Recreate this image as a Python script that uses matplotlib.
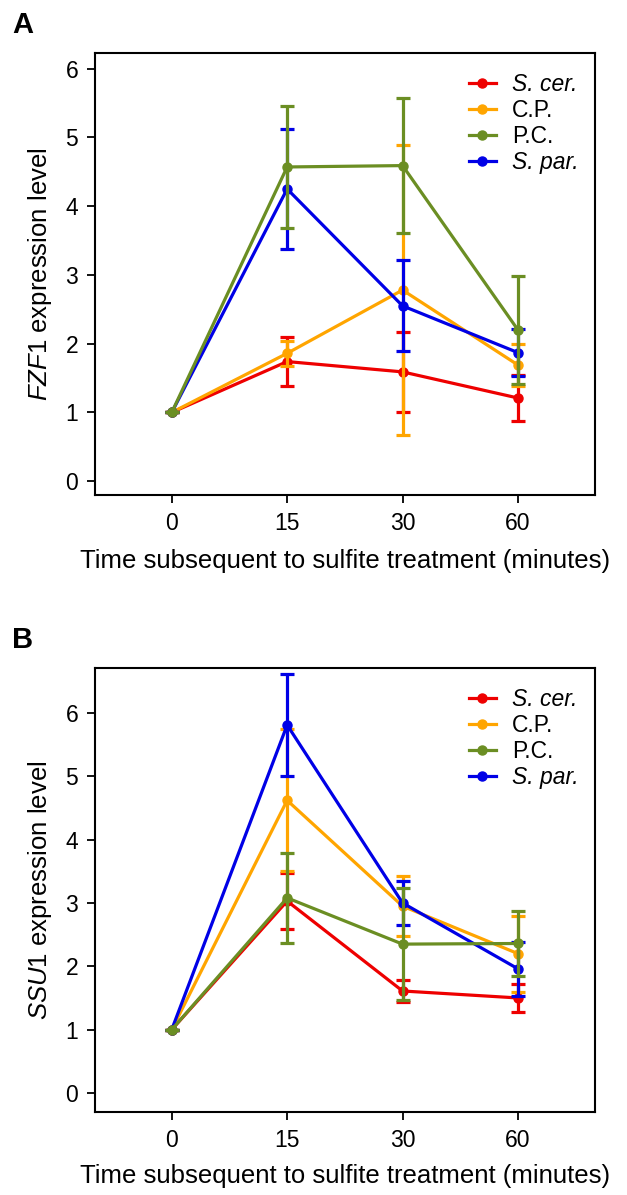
import matplotlib.pyplot as plt
import numpy as np
from matplotlib.lines import Line2D

plt.rcParams["font.family"] = ["Liberation Sans", "DejaVu Sans"]
plt.rcParams["mathtext.fontset"] = "custom"
plt.rcParams["mathtext.rm"] = "Liberation Sans"
plt.rcParams["mathtext.it"] = "Liberation Sans:italic"

# time points (categorical positions on the x axis)
times = ["0", "15", "30", "60"]
strains = ["S. cer.", "C.P.", "P.C.", "S. par."]
italic = [True, False, False, True]
colors = ["#ee0000", "#ffa500", "#6b8e23", "#0000e6"]

# Panel A: FZF1 expression
fzf1_mean = {
    "S.cer": [1.0, 1.74, 1.59, 1.21],
    "C.P.": [1.0, 1.86, 2.78, 1.69],
    "P.C.": [1.0, 4.57, 4.59, 2.20],
    "S.par": [1.0, 4.25, 2.55, 1.87],
}
fzf1_err = {
    "S.cer": [0.0, 0.36, 0.58, 0.34],
    "C.P.": [0.0, 0.18, 2.11, 0.31],
    "P.C.": [0.0, 0.89, 0.98, 0.79],
    "S.par": [0.0, 0.87, 0.66, 0.34],
}

# Panel B: SSU1 expression
ssu1_mean = {
    "S.cer": [1.0, 3.03, 1.61, 1.50],
    "C.P.": [1.0, 4.62, 2.95, 2.20],
    "P.C.": [1.0, 3.08, 2.35, 2.36],
    "S.par": [1.0, 5.81, 3.00, 1.96],
}
ssu1_err = {
    "S.cer": [0.0, 0.44, 0.17, 0.22],
    "C.P.": [0.0, 1.12, 0.47, 0.60],
    "P.C.": [0.0, 0.71, 0.89, 0.51],
    "S.par": [0.0, 0.81, 0.35, 0.43],
}

keys = ["S.cer", "C.P.", "P.C.", "S.par"]
zorders = [2, 3, 5, 4]


def draw_panel(ax, means, errs, gene, ylim, labelpad):
    x = np.arange(len(times))
    for key, color, z in zip(keys, colors, zorders):
        ax.errorbar(x, means[key], yerr=errs[key], color=color,
                    marker="o", markersize=6.5, linewidth=2.3, elinewidth=2.3,
                    capsize=5, capthick=2.3, zorder=z)
    ax.set_xlim(-0.665, 3.665)
    ax.set_ylim(*ylim)
    ax.set_xticks(x)
    ax.set_xticklabels(times)
    ax.set_yticks(range(0, 7))
    ax.tick_params(direction="out", length=6, width=1.3, labelsize=16.5, pad=6)
    for sp in ax.spines.values():
        sp.set_linewidth(1.5)
    ax.set_xlabel("Time subsequent to sulfite treatment (minutes)", fontsize=18.5, labelpad=labelpad)
    ax.set_ylabel(r"$\it{" + gene + r"}$ expression level", fontsize=18.5, labelpad=8)

    handles = [Line2D([], [], color=c, marker="o", markersize=6.5, linewidth=2.3) for c in colors]
    leg = ax.legend(handles, strains, loc="upper right", bbox_to_anchor=(1.0, 0.99), frameon=False,
                    fontsize=16.5, handlelength=1.2, handletextpad=0.7, labelspacing=0.12,
                    borderaxespad=0.3)
    for t, it in zip(leg.get_texts(), italic):
        if it:
            t.set_fontstyle("italic")


fig = plt.figure(figsize=(6.27, 11.95), dpi=100)
ax_a = fig.add_axes([0.1515, 0.5858, 0.797, 0.370])
ax_b = fig.add_axes([0.1515, 0.0695, 0.797, 0.3715])

draw_panel(ax_a, fzf1_mean, fzf1_err, "FZF1", (-0.2, 6.23), 10)
draw_panel(ax_b, ssu1_mean, ssu1_err, "SSU1", (-0.3, 6.71), 9)

fig.text(0.019, 0.991, "A", fontsize=21, fontweight="bold", va="top")
fig.text(0.019, 0.476, "B", fontsize=21, fontweight="bold", va="top")

fig.savefig("out.png", dpi=100)
